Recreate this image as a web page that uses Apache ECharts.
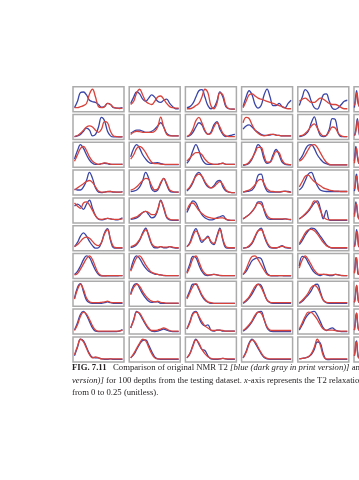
<!DOCTYPE html>
<html><head><meta charset="utf-8">
<script src="https://cdn.jsdelivr.net/npm/echarts@6/dist/echarts.min.js"></script>
<style>html,body{margin:0;padding:0;background:#fff}#c{width:359px;height:480px}</style>
</head><body><div id="c"></div>
<script>
// T2 relaxation bins (x-axis, 0 to 0.25)
const t2Bins = ['0','0.016','0.031','0.047','0.063','0.078','0.094','0.109','0.125','0.141','0.156','0.172','0.188','0.203','0.219','0.234','0.25'];

// original NMR T2 (blue) – one array per row, six depths per row
const blueR0 = [
  [1,4,8.2,8.4,7,4.5,3.8,3.5,2.5,1.2,1.5,3,2.5,1,0.8,0.8,1],
  [3,6,8.5,7.5,5,4,5.5,7,6,4,3.5,4.5,5,3,1.5,0.5,0.5],
  [1,1.5,3,6,9,9.5,6,2,0.5,1,4,8.5,6,1.5,0.5,0.3,0.3],
  [1.5,6,9,7,2.5,0.8,2,7,9.8,6,2,2,3,1.5,1,3,4.5],
  [2,6,9.5,8,4,1,0.3,3,7,7.5,4,0.8,0.2,1,2.5,4,4.5],
  [1,4,7,9,6,3,2,1.5,1,1,1,1,1,1,1,1,1]
];
const redR0 = [
  [1,1,1.5,2,3,7.5,9.7,6,1.5,1,1.5,3,2.5,1.2,0.8,0.6,0.8],
  [2.5,4,8,9.7,7,4,3,2.5,4,6,6.5,5,3,1.5,1,0.8,0.8],
  [0.5,0.5,1,2,3,6,9.7,8,2,0.5,3,8,7,2,0.5,0.3,0.3],
  [1,4,7,7.5,6.5,5.5,5,4.5,4,3.5,3,2.5,2,1.5,0.8,0.5,0.5],
  [4,5,5.5,4.5,3.5,3.5,4.5,5.5,5,4,3,2.5,2.5,2,1,0.5,0.5],
  [2,3,5,8,7,4,2,1.5,1,1,1,1,1,1,1,1,1]
];
const blueR1 = [
  [0.5,0.8,1.5,3,4.5,3.5,0.8,1.5,5,9.5,8,3,0.8,0.3,0.3,0.3,0.3],
  [2,3,3.5,3.5,3,2.5,2.5,3,4,5.5,7,5,2,1,0.8,0.8,0.8],
  [0.5,1,2.5,5,7,6,3,1.5,2.5,6,7.5,4,1.5,0.5,0.8,1.2,1.5],
  [4,5.5,6,5,3.5,2.5,1.5,1,1,1.2,1.5,1.2,1,0.8,0.8,0.8,0.8],
  [0.5,0.8,1.5,3,7,9.8,5,1,0.5,1,4,9,8.5,2,0.5,0.5,0.5],
  [1,2,4,7,9,6,3,1,1,1,1,1,1,1,1,1,1]
];
const redR1 = [
  [0.5,1,2,3.5,5,5.5,5,3.5,2.5,4,7.5,7,3,0.8,0.5,0.3,0.5],
  [1.5,2.5,3,2.8,2.5,2.5,2.5,2.5,3,5,9.7,5,1.5,0.8,0.8,0.8,0.8],
  [0.5,1.5,4,8,9.5,7,3.5,1.5,2,5,7,5,2,0.8,0.5,0.5,0.5],
  [7,9.5,9,6,3.5,2,1.2,0.8,1,1.5,1.5,1.2,1,0.8,0.8,0.8,0.8],
  [0.8,1,2,3.5,5.5,6.5,4.5,2,0.8,1,3,5,4.5,2,0.8,0.5,0.5],
  [1,1.5,3,5,8,7,4,1.5,1,1,1,1,1,1,1,1,1]
];
const blueR2 = [
  [3,7,9.8,8,5,2.5,1,0.5,0.5,0.8,1,0.8,0.5,0.5,0.5,0.5,0.5],
  [4,8,9.8,8,5,3,1.5,1,1.2,1.3,0.8,0.5,0.4,0.4,0.4,0.4,0.4],
  [1,3,7,9.8,7,3,1,0.5,0.5,0.5,0.5,0.8,1,0.5,0.5,0.5,0.5],
  [0,0.3,1,3,6.5,9.8,8,3,1,1.5,5,7.5,5,1.5,0.5,0.3,0.3],
  [2.5,4.5,7.5,9.5,9.8,8,5,3,1.5,0.8,0.3,0.2,0.2,0.2,0.2,0.2,0.2],
  [2,6,9,7,4,2,1,1,1,1,1,1,1,1,1,1,1]
];
const redR2 = [
  [2,5,8,9,7,4,2,1,0.5,0.8,1.2,1,0.6,0.5,0.5,0.5,0.6],
  [3,5,8,9,8,6,3.5,1.5,0.8,0.8,0.6,0.5,0.5,0.5,0.5,0.5,0.5],
  [2,3.5,5,6,6,5,3,1.5,0.8,0.5,0.5,0.8,1,0.5,0.5,0.5,0.5],
  [0.3,0.5,1.5,3.5,6,8.5,8.5,4.5,1.5,1.5,4,6.5,6,2.5,0.8,0.5,0.3],
  [2,3,5,7.5,9.5,9.8,8.5,6,3.5,1.5,0.5,0.2,0.2,0.2,0.2,0.2,0.2],
  [1,4,7,8,5,3,1,1,1,1,1,1,1,1,1,1,1]
];
const blueR3 = [
  [2,1.5,1.5,3,6,9.8,7,2.5,0.5,0.3,0.5,0.7,0.8,0.5,0.5,0.5,0.8],
  [0.8,1,1.5,3,6,9.8,7,2,0.8,1.5,4.5,7,4,1,0.5,0.5,0.5],
  [1,2.5,5,8.5,9.8,8,5,3,2.5,3.5,5.5,6,3,1,0.5,0.3,0.3],
  [0.5,0.8,1,1.5,3.5,8.5,9,4,1,0.5,0.5,0.5,0.5,0.7,1,0.8,0.5],
  [1.5,3,6,9,9.8,7,3.5,1.5,1,0.8,0.8,0.8,0.8,0.8,0.8,0.8,0.8],
  [1,3,8,9,5,2,1,1,1,1,1,1,1,1,1,1,1]
];
const redR3 = [
  [1.5,2.5,3.5,4.5,5.5,6,5,3,1,0.5,0.5,0.8,0.8,0.6,0.5,0.5,0.5],
  [1.5,2,3,4.5,6,7,6.5,3.5,1.5,2,5,7,4.5,1.5,0.8,0.5,0.5],
  [1.5,3,5.5,8,9,8,5.5,3.5,2.5,3,4.5,5.5,4,1.5,0.5,0.3,0.3],
  [0.5,1,1.5,2.5,4,6,6.5,4.5,2,1,0.8,0.6,0.6,0.8,0.9,0.6,0.4],
  [3,5.5,8,8.5,7,5.5,4.5,3.5,2.5,2,1.5,1.2,1,1,0.8,0.8,0.8],
  [2,4,7,8,6,3,1,1,1,1,1,1,1,1,1,1,1]
];
const blueR4 = [
  [7,8,7,5.5,8,9.8,6,2.5,0.8,0.5,0.8,1.2,1,0.8,0.5,0.8,1.5],
  [0.8,1,1.5,2.5,4,4.5,3,1.5,2,5,9.8,6,1.5,0.5,0.3,0.3,0.3],
  [4,7,9.5,8.5,5.5,3,1.5,0.8,0.5,0.8,1.5,2,2.5,1,0.3,0.3,0.3],
  [1,2,3,4.5,6.5,9,9,5,1.5,0.8,0.8,0.8,0.8,0.8,1,0.8,0.5],
  [1,2,3,4.5,6.5,8.5,9.5,6,1,5,0.5,0.3,0.3,0.3,0.3,0.3,0.3],
  [3,6,9,7,4,2,1,1,1,1,1,1,1,1,1,1,1]
];
const redR4 = [
  [8.5,7,6,8.5,9,7.5,5,2.5,1,0.8,1,1.2,1,0.8,0.8,0.8,1],
  [1,1.5,2,3,4,4.5,4,3,3,5.5,9.5,6.5,2,0.8,0.5,0.5,0.5],
  [5,8,8.5,7,5,3.5,2.5,1.8,1.5,1.2,1.2,1.5,1.5,0.8,0.5,0.3,0.3],
  [1,2,3,4.5,6.5,8.5,8,5.5,2.5,1.2,1,1,1,1,1,0.8,0.8],
  [1,2,3.5,5,7,9.5,8.5,5,2,0.8,0.5,0.5,0.5,0.5,0.5,0.5,0.5],
  [2,5,8,8,5,2,1,1,1,1,1,1,1,1,1,1,1]
];
const blueR5 = [
  [1,3,6,7.5,6,3.5,1.5,0.3,0.5,3,7.5,9.5,4,0.5,0.3,0.3,0.3],
  [0.5,1,2,4,7.5,9.8,6,2,0.5,0.5,1,0.5,0.5,1,0.5,0.3,0.3],
  [1,3,7,9.5,6,3,4.5,6,3,2,6,9.8,4,0.5,0.3,0.3,0.3],
  [0.3,0.5,1,2.5,5.5,8.5,9.8,6,2.5,0.5,0.3,0.3,0.8,1.5,0.5,0.3,0.3],
  [2,4,6.5,8.5,9.8,9.5,8,6,4,2,0.8,0.3,0.3,0.3,0.3,0.3,0.3],
  [1,3,6,9,7,3,1,1,1,1,1,1,1,1,1,1,1]
];
const redR5 = [
  [1,2,3.5,5,5.5,5,3.5,2,1.5,3,7,9,4.5,1,0.5,0.5,0.5],
  [1,1.5,2.5,4.5,7,9,6.5,2.5,1,0.8,1,0.8,0.8,1,0.8,0.5,0.5],
  [1,2.5,6,8.5,6.5,4,4.5,5.5,3.5,2.5,5.5,9,4.5,1,0.5,0.5,0.5],
  [0.3,0.5,1.5,3,6,8.5,9,6.5,3,1,0.5,0.5,0.8,1.2,0.8,0.5,0.3],
  [2.5,5,7.5,9,9.2,8.5,7,5,3,1.5,0.8,0.5,0.5,0.5,0.5,0.5,0.5],
  [1,2,5,8,8,4,1,1,1,1,1,1,1,1,1,1,1]
];
const blueR6 = [
  [1,2.5,5,8,9.8,9,6,3,1,0.3,0.3,0.3,0.3,0.3,0.3,0.5,0.5],
  [3,8,9.8,8.5,6,4,2.5,1.8,1.2,1,0.8,0.5,0.5,0.5,0.5,0.5,0.5],
  [2,6,9.5,9,5.5,2.5,0.8,0.5,0.8,1,0.8,0.5,0.5,0.5,0.5,0.5,0.5],
  [1,2.5,5,7.5,8.5,9,8.5,5,1.5,0.5,0.3,0.3,0.5,0.5,0.3,0.3,0.3],
  [5,9.5,9,6.5,4,2,1,0.5,1,0.8,0.5,0.5,1,0.8,0.5,0.5,0.5],
  [2,5,9,8,4,1,1,1,1,1,1,1,1,1,1,1,1]
];
const redR6 = [
  [0.8,1.5,3.5,6,8.5,9.8,8,4.5,1.5,0.5,0.3,0.5,0.5,0.5,0.5,0.5,0.5],
  [2.5,6,9,9.8,8,5.5,3.5,2,1.5,1,0.8,0.6,0.5,0.5,0.5,0.5,0.5],
  [1.5,4.5,8.5,9.8,7,3.5,1.5,0.8,0.8,1,0.8,0.6,0.5,0.5,0.5,0.5,0.5],
  [1,3.5,7,9.5,9.8,8,5.5,3,1,0.5,0.5,0.5,0.5,0.5,0.5,0.5,0.5],
  [4,8,9.8,8,5.5,3,1.5,1,1,1,0.8,0.8,1,0.8,0.6,0.5,0.5],
  [1.5,4,8,9,5,2,1,1,1,1,1,1,1,1,1,1,1]
];
const blueR7 = [
  [3,8,9.8,6,2,0.8,0.5,0.5,0.5,0.5,0.8,1.2,0.8,0.5,0.5,0.5,0.5],
  [5,9,9.8,7.5,5,3,1.5,1,1.2,1.2,0.5,0.5,0.5,0.5,0.5,0.5,0.5],
  [3,6.5,9.5,9.5,7,4,2,1,0.5,0.5,0.5,0.5,0.5,0.5,0.5,0.5,0.5],
  [0.5,1.5,3,5,7.5,9.5,9,5.5,2,0.8,0.5,0.5,0.5,0.5,0.5,0.5,0.5],
  [0.5,1.5,3,4.5,6.5,9,9.5,6,2,0.8,0.5,0.5,0.5,0.5,0.5,0.5,0.5],
  [1,3,7,9,6,2,1,1,1,1,1,1,1,1,1,1,1]
];
const redR7 = [
  [2.5,7,9.5,7,3,1.2,0.8,0.8,0.8,1,1.2,1.5,1,0.8,0.8,0.8,0.8],
  [4.5,8,9.5,8.5,6,4,2.5,1.5,1.2,1.5,1,0.8,0.6,0.6,0.6,0.6,0.6],
  [2.5,5.5,8.5,9.8,7.5,4.5,2.5,1.2,0.8,0.5,0.5,0.5,0.5,0.5,0.5,0.5,0.5],
  [0.8,2,3.5,6,8.5,9.5,8,5,2,1,0.8,0.8,0.8,0.8,0.8,0.8,0.8],
  [0.8,2,3.5,5.5,8,9,8,5,2,1,0.8,0.8,0.8,0.8,0.8,0.8,0.8],
  [1,2.5,6,9,7,3,1,1,1,1,1,1,1,1,1,1,1]
];
const blueR8 = [
  [1,4.5,8.5,9.8,8,5,2,0.5,0.3,0.3,0.3,0.3,0.3,0.3,0.3,0.5,1.2],
  [2,6,9.8,8.5,6,3.5,1.5,0.5,0.3,0.5,1,1.5,1,0.5,0.3,0.3,0.3],
  [1.5,5,9,9.8,7,4,3,3.5,1,0.5,1,1,0.5,0.5,0.5,0.5,0.5],
  [0.5,1.5,3,5,7.5,9.5,9.8,6,2,0.5,0.3,0.3,0.3,0.3,0.3,0.3,0.3],
  [1,3.5,6.5,8.5,9.5,9.8,8,5,2,0.8,1.5,2,1,0.5,0.3,0.3,0.3],
  [1,4,8,9,5,2,1,1,1,1,1,1,1,1,1,1,1]
];
const redR8 = [
  [0.8,3.5,7.5,9.5,8.5,6,3,1,0.5,0.5,0.5,0.5,0.5,0.5,0.5,0.6,1],
  [2,5.5,9.5,9,6.5,4,2,0.8,0.8,1,1.5,2,1.5,0.8,0.5,0.5,0.5],
  [1.5,4.5,8.5,9.5,7.5,5,3,2,1,0.8,1,1,0.8,0.5,0.5,0.5,0.5],
  [0.8,2,3.5,5.5,8,9.5,9,6,2.5,1,0.8,0.8,0.8,0.8,0.8,0.8,0.8],
  [1.5,4.5,7.5,9.5,9.3,8,6,3.5,1.5,1,1,1,0.8,0.5,0.5,0.5,0.5],
  [1,3,7,9,6,2,1,1,1,1,1,1,1,1,1,1,1]
];
const blueR9 = [
  [2,6,9.8,9,6,3,1.2,1,1,0.5,0.3,0.3,0.5,0.3,0.3,0.3,0.3],
  [1,2.5,5,7.5,9.2,9.5,7,4,1.5,0.5,0.3,0.3,0.3,0.3,0.3,0.3,0.3],
  [1,3,7,9.8,7.5,5,4.5,2,0.5,0.3,0.3,0.5,0.8,0.5,0.3,0.3,0.3],
  [1,4,8,9.8,8,5.5,3,1.2,0.5,0.3,0.3,0.3,0.3,0.3,0.3,0.3,0.3],
  [0.5,0.8,1,1.5,2.5,5,8.5,8,3,0.3,0.2,0.3,0.3,0.3,0.3,0.3,0.3],
  [2,4,8,9,5,2,1,1,1,1,1,1,1,1,1,1,1]
];
const redR9 = [
  [2.5,6.5,9.8,8.5,5.5,2.5,1,1.5,1,0.5,0.5,0.5,0.5,0.5,0.5,0.5,0.5],
  [1,3,5.5,8,9.8,9,6,3,1,0.5,0.5,0.5,0.5,0.5,0.5,0.5,0.5],
  [1,3,6.5,9.5,8,5,3,1.5,0.8,0.5,0.5,0.5,0.8,0.5,0.5,0.5,0.5],
  [1,3.5,7.5,9.5,8.5,6,3.5,1.5,0.8,0.5,0.5,0.5,0.5,0.5,0.5,0.5,0.5],
  [0.5,0.8,1,1.5,3,6,9.8,7,2,0.5,0.5,0.5,0.5,0.5,0.5,0.5,0.5],
  [2,5,8.5,8,4,1.5,1,1,1,1,1,1,1,1,1,1,1]
];

const blueRows = [blueR0,blueR1,blueR2,blueR3,blueR4,blueR5,blueR6,blueR7,blueR8,blueR9];
const redRows  = [redR0,redR1,redR2,redR3,redR4,redR5,redR6,redR7,redR8,redR9];

const BLUE = '#3a45a6', RED = '#d8433c';
const grids = [], xAxes = [], yAxes = [], series = [];
let k = 0;
for (let r = 0; r < 10; r++) {
  for (let c = 0; c < 6; c++) {
    grids.push({left: 73 + 56.2 * c, top: 86.7 + 27.8 * r, width: 51, height: 25,
      show: true, borderColor: '#ababab', borderWidth: 1.5, backgroundColor: '#fff'});
    xAxes.push({type: 'category', data: t2Bins, gridIndex: k, show: false, boundaryGap: true});
    yAxes.push({type: 'value', min: -0.9, max: 10.9, gridIndex: k, show: false});
    series.push({type: 'line', xAxisIndex: k, yAxisIndex: k, data: blueRows[r][c], smooth: 0.4,
      symbol: 'none', silent: true, lineStyle: {color: BLUE, width: 1.3}});
    series.push({type: 'line', xAxisIndex: k, yAxisIndex: k, data: redRows[r][c], smooth: 0.4,
      symbol: 'none', silent: true, lineStyle: {color: RED, width: 1.3}});
    k++;
  }
}

const FF = '"Liberation Serif", "Times New Roman", serif';
const FS = 8.7;
const rich = {
  b: {fontFamily: FF, fontSize: FS, fontWeight: 'bold', fill: '#231f20'},
  n: {fontFamily: FF, fontSize: FS, fill: '#231f20'},
  i: {fontFamily: FF, fontSize: FS, fontStyle: 'italic', fill: '#231f20'}
};
const chart = echarts.init(document.getElementById('c'), null, {renderer: 'canvas'});
chart.setOption({
  backgroundColor: '#fff',
  animation: false,
  grid: grids, xAxis: xAxes, yAxis: yAxes, series: series,
  graphic: [
    {type: 'text', left: 72, top: 363.5, style: {text: '{b|FIG. 7.11}{n|   Comparison of original NMR T2 }{i|[blue (dark gray in print version)]}{n| and synthetic NMR T2 }{i|[red (light gray in print}', rich: rich}},
    {type: 'text', left: 72, top: 376, style: {text: '{i|version)]}{n| for 100 depths from the testing dataset. }{i|x}{n|-axis represents the T2 relaxation time, which ranges}', rich: rich}},
    {type: 'text', left: 72, top: 388.5, style: {text: '{n|from 0 to 0.25 (unitless).}', rich: rich}}
  ]
});
</script></body></html>
